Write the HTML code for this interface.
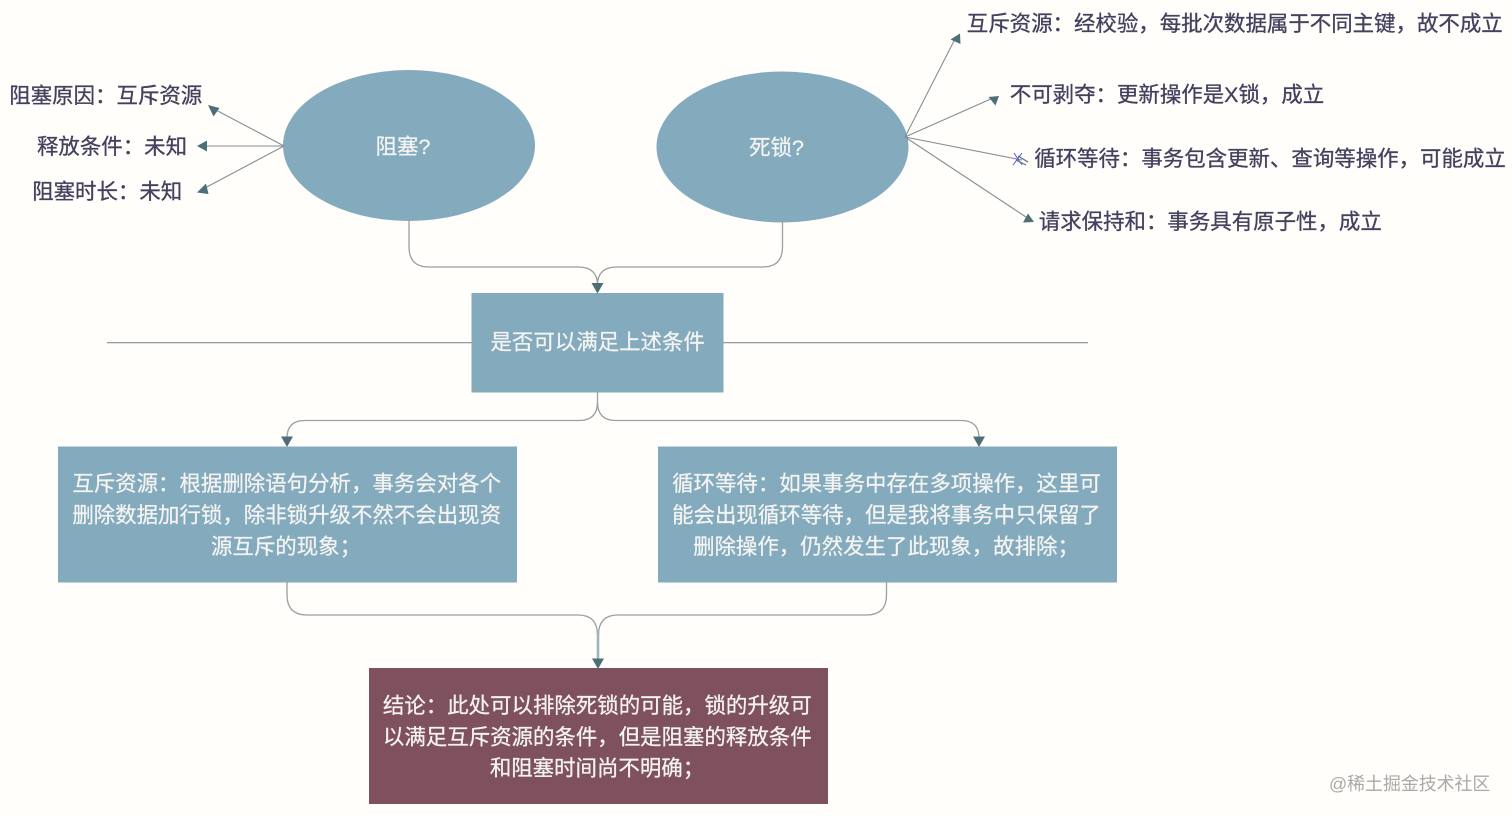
<!DOCTYPE html>
<html><head><meta charset="utf-8"><style>
html,body{margin:0;padding:0;background:#fffefb;width:1512px;height:816px;overflow:hidden}
svg{display:block}
text{font-family:"Liberation Sans","Noto Sans CJK SC",sans-serif;font-size:21.45px}
.d{fill:#45405e;stroke:#45405e;stroke-width:.3}
.w{fill:#f4f4f2;stroke:#f4f4f2;stroke-width:.25}
.c{text-anchor:middle}
.l{fill:none;stroke:#9a9f9f;stroke-width:1.3}
.s{fill:none;stroke:#858f91;stroke-width:1.1}
.a{fill:#4f6f78}
</style></head><body>
<svg width="1512" height="816" viewBox="0 0 1512 816" xmlns="http://www.w3.org/2000/svg">
<rect width="1512" height="816" fill="#fffefb"/>
<ellipse cx="409" cy="145.500" rx="126" ry="75.500" fill="#84aabd"/>
<ellipse cx="782.500" cy="147" rx="126" ry="75.500" fill="#84aabd"/>
<rect x="471.500" y="293" width="252" height="99.500" fill="#84aabd"/>
<rect x="58" y="446.500" width="459" height="136" fill="#84aabd"/>
<rect x="658" y="446.500" width="459" height="136" fill="#84aabd"/>
<rect x="369" y="668" width="459" height="136" fill="#7f515e"/>
<path class="s" d="M107 342.700H471.500M723.500 342.700H1088"/>
<path class="l" d="M409 221V247Q409 267 429 267H578Q597.500 267 597.500 285M782.500 222V247Q782.500 267 762.500 267H617Q597.500 267 597.500 285"/>
<path class="l" d="M597.500 392.500V402Q597.500 420.500 579 420.500H305Q287 420.500 287 438M597.500 392.500V402Q597.500 420.500 616 420.500H961Q979 420.500 979 438"/>
<path class="l" d="M287 582.500V595Q287 615 307 615H578Q597.500 615 597.500 635M886.500 582.500V595Q886.500 615 866.500 615H618Q598.500 615 598.500 635"/>
<path d="M598 632V660" fill="none" stroke="#9fb5ba" stroke-width="2.600"/>
<polygon class="a" points="591.500,283 603.500,283 597.500,293.500"/>
<polygon class="a" points="281,436.500 293,436.500 287,447"/>
<polygon class="a" points="973,436.500 985,436.500 979,447"/>
<polygon class="a" points="592,658.500 604,658.500 598,669"/>
<path class="s" d="M284 146L214 109M284 146H203M284 146L203 189"/>
<polygon class="a" points="208,105 219.500,108 213.500,116.500"/>
<polygon class="a" points="197,146 207,140.500 207,151.500"/>
<polygon class="a" points="197,192.500 206,183.500 208.500,194"/>
<path class="s" d="M905 137L955 39M905 137L993 98M905 137L1022 160M905 137L1029 219"/>
<polygon class="a" points="960,33.500 960.500,44 950.500,39.500"/>
<polygon class="a" points="999,96 995.500,105.500 988.500,97"/>
<polygon class="a" points="1034,222 1023,222.500 1028,213.500"/>
<path d="M1014 153L1022 165M1022 153L1013 165" stroke="#5a55d8" stroke-width="1" fill="none"/>
<path d="M1018 156L1028 162M1016 160L1026 165" stroke="#56707a" stroke-width="1.200" fill="none"/>
<text class="d" x="966.800" y="31">互斥资源：经校验，每批次数据属于不同主键，故不成立</text>
<text class="d" x="1009.800" y="102">不可剥夺：更新操作是X锁，成立</text>
<text class="d" x="1034.200" y="166">循环等待：事务包含更新、查询等操作，可能成立</text>
<text class="d" x="1038.800" y="229">请求保持和：事务具有原子性，成立</text>
<text class="d" x="9.300" y="103">阻塞原因：互斥资源</text>
<text class="d" x="37" y="154">释放条件：未知</text>
<text class="d" x="32.200" y="199">阻塞时长：未知</text>
<text class="w c" x="403" y="154">阻塞?</text>
<text class="w c" x="776.500" y="155">死锁?</text>
<text class="w c" x="597.700" y="349.500">是否可以满足上述条件</text>
<text class="w c" x="286.700" y="491">互斥资源：根据删除语句分析，事务会对各个</text>
<text class="w c" x="286.700" y="522.700">删除数据加行锁，除非锁升级不然不会出现资</text>
<text class="w c" x="286" y="554.200">源互斥的现象；</text>
<text class="w c" x="886.500" y="491">循环等待：如果事务中存在多项操作，这里可</text>
<text class="w c" x="886.500" y="522.700">能会出现循环等待，但是我将事务中只保留了</text>
<text class="w c" x="886" y="554.200">删除操作，仍然发生了此现象，故排除；</text>
<text class="w c" x="597.300" y="713">结论：此处可以排除死锁的可能，锁的升级可</text>
<text class="w c" x="597.300" y="744.500">以满足互斥资源的条件，但是阻塞的释放条件</text>
<text class="w c" x="597" y="775.500">和阻塞时间尚不明确；</text>
<text x="1329" y="790" style="font-size:17.900px;fill:#a9a9a7">@稀土掘金技术社区</text>
</svg>
</body></html>
